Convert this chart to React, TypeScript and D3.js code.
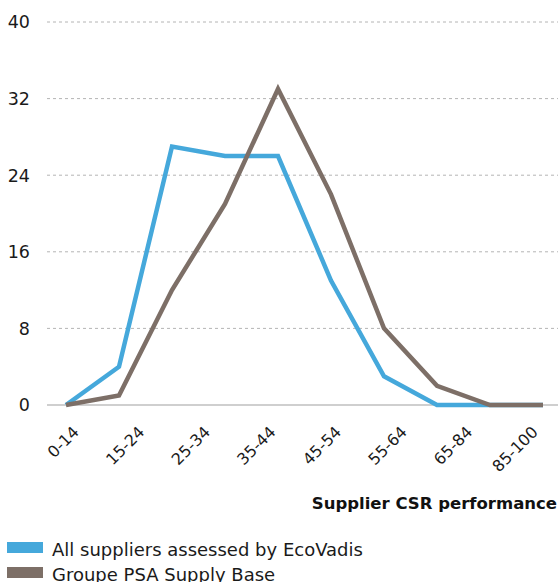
import React from "react";
import * as d3 from "d3";

const categories = ["0-14", "15-24", "25-34", "35-44", "45-54", "55-64", "65-84", "85-100"];
const ecoVadis = [0, 4, 27, 26, 26, 13, 3, 0, 0, 0];
const psa = [0, 1, 12, 21, 33, 22, 8, 2, 0, 0];
const yTicks = [0, 8, 16, 24, 32, 40];
const seriesNames = ["All suppliers assessed by EcoVadis", "Groupe PSA Supply Base"];
const colors = ["#45a8db", "#7d6f67"];

const W = 558;
const H = 582;
const FONT = "'DejaVu Sans', sans-serif";

export default function App() {
  const y = d3.scaleLinear().domain([0, 40]).range([405, 22]);
  const xPts = d3.scaleLinear().domain([0, ecoVadis.length - 1]).range([66, 543]);
  const xLab = d3.scalePoint<string>().domain(categories).range([80, 539]);
  const line = d3
    .line<number>()
    .x((_, i) => xPts(i))
    .y((d) => y(d));
  const series = [ecoVadis, psa];

  return (
    <svg
      width={W}
      height={H}
      style={{ position: "absolute", left: 0, top: 0, background: "#fff" }}
      fontFamily={FONT}
    >
      {yTicks.map((t) => (
        <g key={t}>
          {t === 0 ? (
            <line x1={47} x2={558} y1={y(t)} y2={y(t)} stroke="#a0a0a0" strokeWidth={1.2} />
          ) : (
            <line
              x1={47}
              x2={558}
              y1={y(t)}
              y2={y(t)}
              stroke="#b4b4b4"
              strokeWidth={1}
              strokeDasharray="3,3"
            />
          )}
          <text x={30} y={y(t)} dy="0.36em" textAnchor="end" fontSize={17.5} fill="#1a1a1a">
            {t}
          </text>
        </g>
      ))}
      {series.map((s, i) => (
        <path
          key={i}
          d={line(s) || ""}
          fill="none"
          stroke={colors[i]}
          strokeWidth={4.5}
          strokeLinejoin="miter"
        />
      ))}
      {categories.map((c) => (
        <text
          key={c}
          transform={`translate(${xLab(c)!},${433}) rotate(-45)`}
          textAnchor="end"
          fontSize={16}
          fill="#1a1a1a"
        >
          {c}
        </text>
      ))}
      <text x={557} y={509} textAnchor="end" fontSize={16.5} fontWeight="bold" fill="#111">
        Supplier CSR performance
      </text>
      {seriesNames.map((n, i) => (
        <g key={n} transform={`translate(0,${i * 25})`}>
          <rect x={7} y={542} width={36} height={11} fill={colors[i]} />
          <text x={52} y={556} fontSize={18} fill="#1a1a1a">
            {n}
          </text>
        </g>
      ))}
    </svg>
  );
}
